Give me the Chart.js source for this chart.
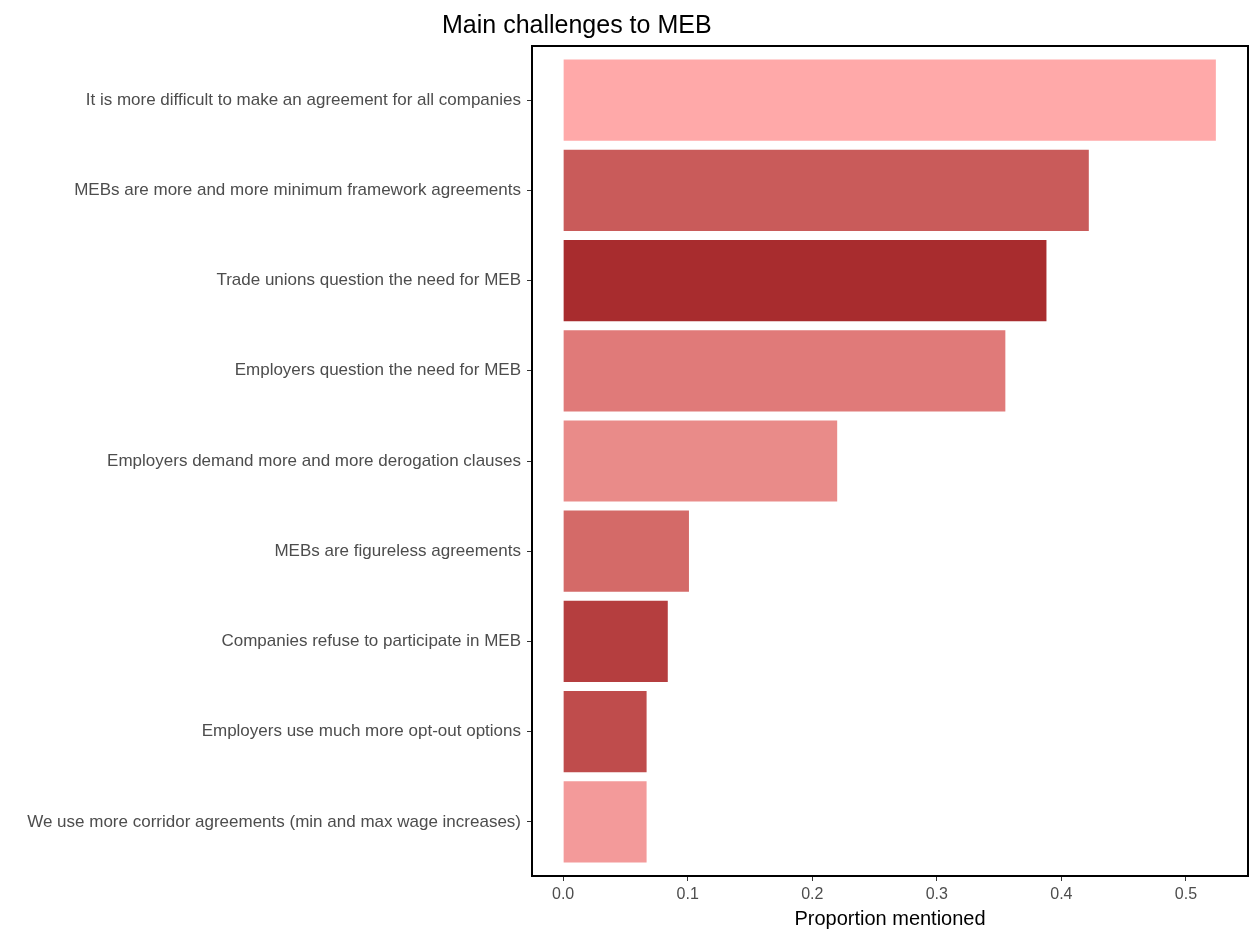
<!DOCTYPE html>
<html>
<head>
<meta charset="utf-8">
<script src="https://cdn.jsdelivr.net/npm/chart.js@4"></script>
<style>
  html, body { margin: 0; padding: 0; background: #fff; }
  #wrap { width: 1252px; height: 931px; }
</style>
</head>
<body>
<div id="wrap"><canvas id="mebChart" width="1252" height="931"></canvas></div>
<script>
// Challenges, top to bottom
const challenges = [
  'It is more difficult to make an agreement for all companies',
  'MEBs are more and more minimum framework agreements',
  'Trade unions question the need for MEB',
  'Employers question the need for MEB',
  'Employers demand more and more derogation clauses',
  'MEBs are figureless agreements',
  'Companies refuse to participate in MEB',
  'Employers use much more opt-out options',
  'We use more corridor agreements (min and max wage increases)'
];
const proportions = [0.524, 0.422, 0.388, 0.355, 0.220, 0.101, 0.084, 0.067, 0.067];
const barColors = ['#FFA9A9', '#C95B5A', '#A82C2E', '#E07A79', '#E98B89', '#D46A68', '#B53E3F', '#BF4C4C', '#F39A9A'];
const xTicks = [0, 0.1, 0.2, 0.3, 0.4, 0.5];

const FONT = "'Liberation Sans', Arial, sans-serif";

const panelBorder = {
  id: 'panelBorder',
  afterDraw(chart) {
    const { ctx, chartArea: a } = chart;
    ctx.save();
    ctx.strokeStyle = '#000';
    ctx.lineWidth = 2;
    ctx.strokeRect(a.left, a.top, a.right - a.left, a.bottom - a.top);
    // title
    ctx.font = '25px ' + FONT;
    ctx.fillStyle = '#000';
    ctx.textAlign = 'left';
    ctx.textBaseline = 'alphabetic';
    ctx.fillText('Main challenges to MEB', 442, 33);
    ctx.restore();
  }
};

new Chart(document.getElementById('mebChart').getContext('2d'), {
  type: 'bar',
  data: {
    datasets: [{
      data: proportions.map((v, i) => ({ x: v, y: i })),
      backgroundColor: barColors,
      borderWidth: 0,
      barPercentage: 0.9,
      categoryPercentage: 1.0
    }]
  },
  options: {
    indexAxis: 'y',
    responsive: false,
    animation: false,
    layout: { padding: { top: 46, right: 4, bottom: 0, left: 0 } },
    plugins: {
      legend: { display: false },
      tooltip: { enabled: false }
    },
    scales: {
      x: {
        type: 'linear',
        min: -0.025,
        max: 0.5498,
        afterBuildTicks: (s) => { s.ticks = xTicks.map(v => ({ value: v })); },
        afterFit: (s) => { s.height = 55; },
        grid: { display: true, drawOnChartArea: false, drawTicks: true, tickLength: 5, color: '#333' },
        border: { display: false },
        ticks: {
          color: '#4D4D4D',
          font: { family: FONT, size: 16 },
          padding: 4,
          maxRotation: 0,
          callback: (v) => v.toFixed(1)
        },
        title: {
          display: true,
          text: 'Proportion mentioned',
          color: '#000',
          font: { family: FONT, size: 20 },
          padding: { top: 0, bottom: 0 }
        }
      },
      y: {
        type: 'linear',
        reverse: true,
        offset: false,
        min: -0.6,
        max: challenges.length - 1 + 0.6,
        afterBuildTicks: (s) => { s.ticks = challenges.map((c, i) => ({ value: i })); },
        afterFit: (s) => { s.width = 532; },
        grid: { display: true, offset: false, drawOnChartArea: false, drawTicks: true, tickLength: 5, color: '#333' },
        border: { display: false },
        ticks: {
          color: '#4D4D4D',
          font: { family: FONT, size: 17 },
          padding: 6,
          autoSkip: false,
          callback: (v) => challenges[v]
        }
      }
    }
  },
  plugins: [panelBorder]
});
</script>
</body>
</html>
